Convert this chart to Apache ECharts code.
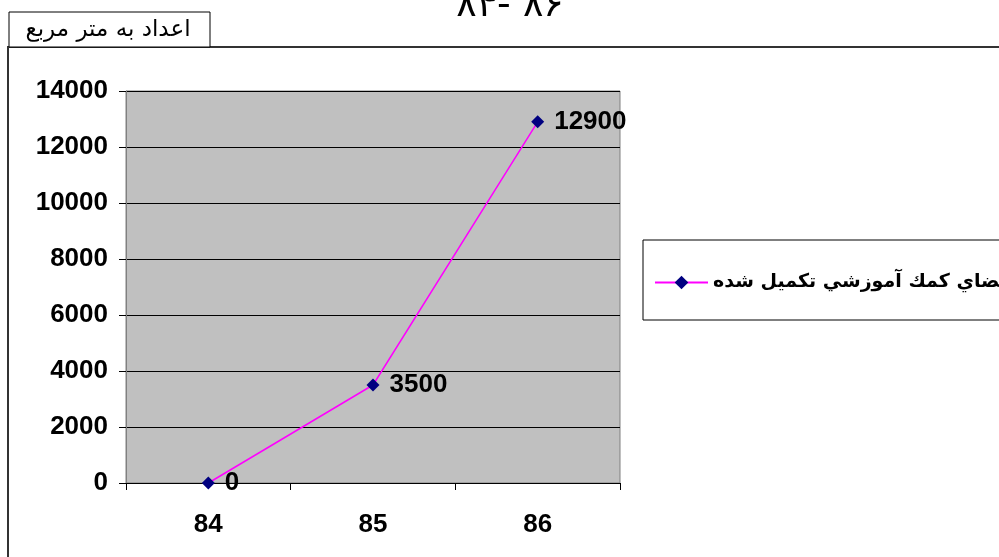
<!DOCTYPE html>
<html>
<head>
<meta charset="utf-8">
<script src="https://cdn.jsdelivr.net/npm/echarts@6/dist/echarts.min.js"></script>
<style>
html,body{margin:0;padding:0;background:#fff;}
#main{width:999px;height:557px;}
</style>
</head>
<body>
<div id="main"></div>
<script>
const categories = ['84', '85', '86'];
const seriesName = 'فضاي كمك آموزشي تكميل شده';
const values = [0, 3500, 12900];
const yTicks = [0, 2000, 4000, 6000, 8000, 10000, 12000, 14000];
const titleText = '۸۴- ۸۶';
const unitText = 'اعداد به متر مربع';

const FONT = '"Liberation Sans", Arial, "DejaVu Sans", sans-serif';

const chart = echarts.init(document.getElementById('main'), null, {renderer: 'canvas'});
chart.setOption({
  animation: false,
  backgroundColor: '#fff',
  grid: {
    left: 126, right: 379, top: 91, bottom: 74,
    show: true, backgroundColor: '#C0C0C0', borderColor: '#808080', borderWidth: 1
  },
  xAxis: {
    type: 'category',
    data: categories,
    boundaryGap: true,
    axisLine: {lineStyle: {color: '#000', width: 1}},
    axisTick: {show: true, length: 7, lineStyle: {color: '#000'}},
    axisLabel: {margin: 29, fontFamily: FONT, fontWeight: 'bold', fontSize: 26, color: '#000'},
    splitLine: {show: false}
  },
  yAxis: {
    type: 'value',
    min: yTicks[0], max: yTicks[yTicks.length - 1], interval: 2000,
    axisLine: {show: true, lineStyle: {color: '#808080', width: 1}},
    axisTick: {show: true, length: 7, lineStyle: {color: '#000'}},
    axisLabel: {margin: 18, fontFamily: FONT, fontWeight: 'bold', fontSize: 26, color: '#000',
      formatter: function (v) { return String(v); }},
    splitLine: {show: true, lineStyle: {color: '#000', width: 1}}
  },
  legend: {
    show: true,
    left: 649, top: 268,
    itemWidth: 53, itemHeight: 17,
    itemGap: 10,
    textStyle: {fontFamily: '"DejaVu Sans", sans-serif', fontWeight: 'bold', fontSize: 19, color: '#000'},
    data: [{name: seriesName}]
  },
  series: [{
    name: seriesName,
    type: 'line',
    data: values,
    symbol: 'diamond',
    symbolSize: 13,
    itemStyle: {color: '#000080'},
    lineStyle: {color: '#FF00FF', width: 1.5},
    label: {
      show: true, position: 'right', distance: 10,
      fontFamily: FONT, fontWeight: 'bold', fontSize: 26, color: '#000'
    }
  }],
  graphic: [
    {type: 'polyline', shape: {points: [[8, 600], [8, 47], [1100, 47]]},
     style: {stroke: '#333', lineWidth: 2, fill: null}, z: 1},
    {type: 'rect', shape: {x: 9, y: 12, width: 201, height: 35},
     style: {fill: '#fff', stroke: '#000', lineWidth: 1}, z: 2},
    {type: 'text', x: 108, y: 30,
     style: {text: unitText, fontFamily: '"DejaVu Sans", sans-serif', fontSize: 23, fill: '#000', align: 'center', verticalAlign: 'middle'}, z: 3},
    {type: 'rect', shape: {x: 643, y: 240, width: 500, height: 80},
     style: {fill: '#fff', stroke: '#000', lineWidth: 1}, z: 0},
    {type: 'text', x: 510, y: 25,
     style: {text: titleText, fontFamily: '"DejaVu Sans", sans-serif', fontSize: 38, fill: '#000', align: 'center', verticalAlign: 'bottom'}, z: 3}
  ]
});
</script>
</body>
</html>
